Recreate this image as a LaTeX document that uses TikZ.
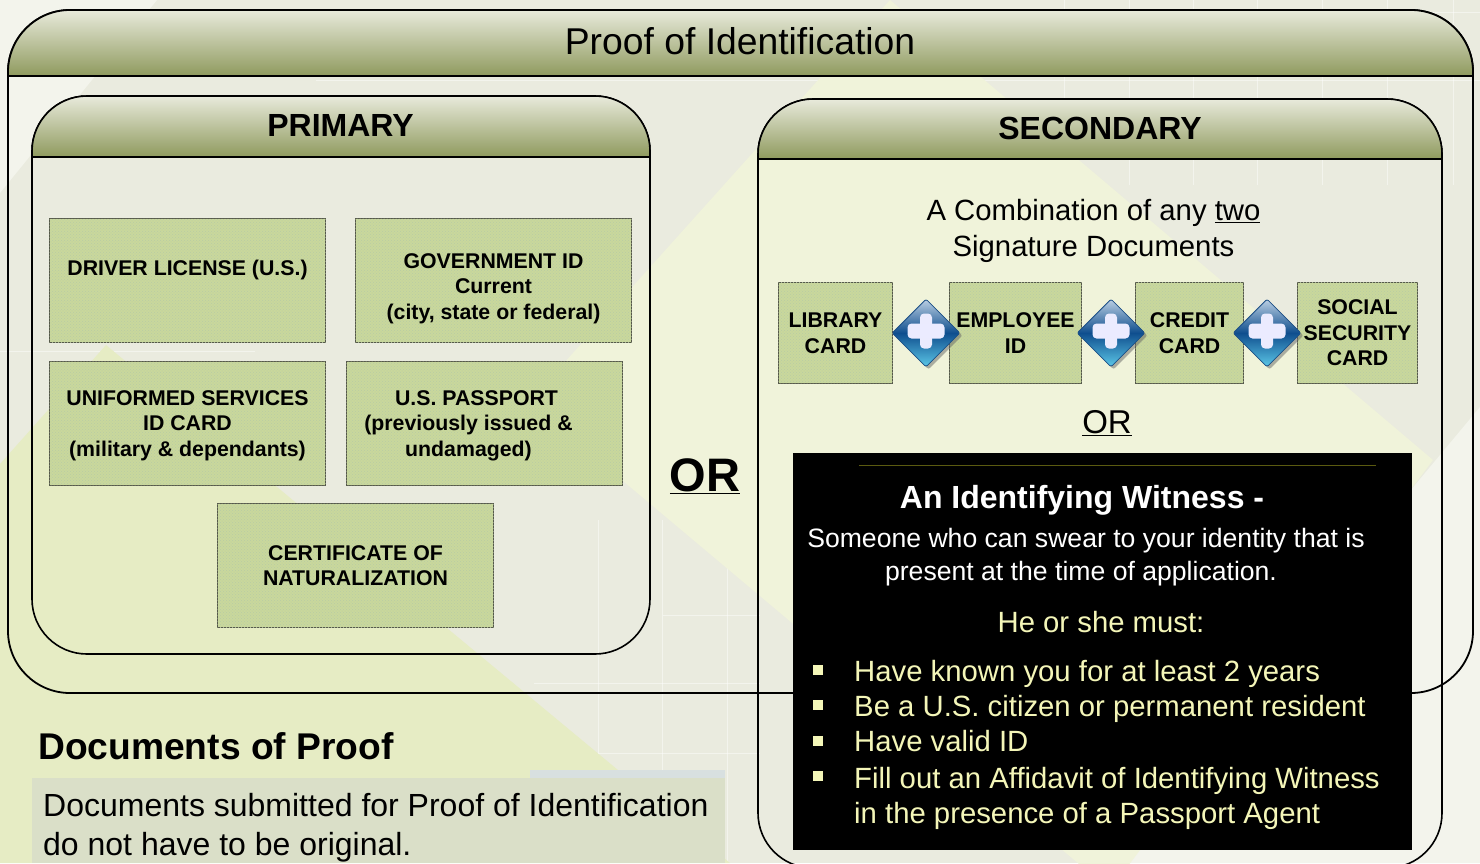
\documentclass[tikz,border=0pt]{standalone}
\usepackage{fontspec}
\setmainfont{Liberation Sans}
\usetikzlibrary{positioning, shapes.geometric, shadows, patterns}

\definecolor{pagegrey}{HTML}{EAEBDF}
\definecolor{pagelight}{HTML}{F3F4EC}
\definecolor{pagegreen}{HTML}{E6ECC4}
\definecolor{panelgreen}{HTML}{F0F3DA}
\definecolor{headtop}{HTML}{E8EADB}
\definecolor{headlow}{HTML}{8F9A5E}
\definecolor{docgreen}{HTML}{C9D89C}
\definecolor{docdots}{HTML}{B9CBA4}
\definecolor{docedge}{HTML}{55584A}
\definecolor{paleyellow}{HTML}{F4F6B8}
\definecolor{notegrey}{HTML}{DADFC8}
\definecolor{notestrip}{HTML}{D8E0E0}
\definecolor{gemtop}{HTML}{BCD0E4}
\definecolor{gemmid}{HTML}{0F4E8E}
\definecolor{gemlow}{HTML}{5CC8E8}
\definecolor{gemedge}{HTML}{1D4F86}
\definecolor{olive}{HTML}{5A5A10}

\begin{document}
\begin{tikzpicture}[
x=1pt,
y=-1pt,
head/.style={
	draw,
	line width=1.8pt,
	top color=headtop,
	bottom color=headlow
},
frame/.style={
	draw,
	line width=1.8pt
},
docbox/.style={
	rectangle,
	draw=docedge,
	line width=1pt,
	fill=docgreen,
	postaction={pattern=crosshatch dots, pattern color=docdots},
	align=center,
	inner sep=0pt,
	font=\fontsize{21.3}{25.6}\selectfont\bfseries
},
plain/.style={
	inner sep=0pt,
	align=center,
	font=\fontsize{#1}{\the\dimexpr#1pt*6/5\relax}\selectfont
},
strong/.style={
	inner sep=0pt,
	align=center,
	font=\fontsize{#1}{\the\dimexpr#1pt*6/5\relax}\selectfont\bfseries
},
rule/.style={
	anchor=west,
	inner sep=0pt,
	align=left,
	text=paleyellow,
	font=\fontsize{29.3}{35}\selectfont
},
plusdiamond/.style={
	diamond,
	aspect=1,
	minimum width=68pt,
	minimum height=68pt,
	inner sep=0pt,
	rounded corners=2pt,
	draw=gemedge,
	line width=0.8pt,
	top color=gemtop,
	bottom color=gemlow,
	middle color=gemmid,
	drop shadow={shadow xshift=2.5pt,shadow yshift=-2.5pt,fill=black!60}
},
plusbar/.style={
	rectangle,
	rounded corners=4pt,
	inner sep=0pt,
	fill=#1
},
bullet/.style={
	rectangle,
	fill=paleyellow,
	minimum size=10pt,
	inner sep=0pt
},
gridline/.style={
	white,
	line width=1pt,
	opacity=0.45
}
]

\clip (0,0) rectangle (1480,863);

% Background
\fill[pagegrey] (0,0) rectangle (1480,863);
\foreach \xpos in {1064,1129,1193,1257,1322,1387,1453}
	\draw[gridline] (\xpos,0) -- (\xpos,185);
\foreach \xpos in {598,662,727}
	\draw[gridline] (\xpos,520) -- (\xpos,863);
\foreach \ypos in {683,753}
	\draw[gridline] (534,\ypos) -- (760,\ypos);
\draw[gridline] (663,615) -- (760,615);
\draw[gridline] (316,80) -- (1480,80);
\draw[gridline] (1180,12) -- (1480,12);
\draw[gridline] (0,351) -- (255,351);
\fill[pagelight] (0,0) -- (157,0) -- (0,193) -- cycle;
\fill[pagelight] (1480,407) -- (1100,863) -- (1480,863) -- cycle;
\fill[pagegreen] (106,345) -- (0,464) -- (0,863) -- (730,863) -- cycle;
\fill[panelgreen] (890,0) -- (529,402) -- (1110,890) -- (1433,460) -- cycle;

% Outer panel
\draw[frame, rounded corners=62pt] (8,10) rectangle (1473,693);
\draw[head] (8,76) [rounded corners=62pt] -- (8,10) -- (1473,10) [sharp corners] -- (1473,76) -- cycle;
\node[plain=37.3] (title) at (740,41) {Proof of Identification};

% Primary panel
\draw[frame, line width=1.6pt, rounded corners=55pt] (32,96) rectangle (650,654);
\draw[head, line width=1.6pt] (32,157) [rounded corners=55pt] -- (32,96) -- (650,96) [sharp corners] -- (650,157) -- cycle;
\node[strong=32] (primary) at (340.5,125) {PRIMARY};

\node[docbox, minimum width=276pt, minimum height=124pt] (driver) at (187.5,280.5) {DRIVER LICENSE (U.S.)\\\mbox{}};
\node[docbox, minimum width=276pt, minimum height=124pt] (government) at (493.5,280.5) {\rule{0pt}{31pt}GOVERNMENT ID\\Current\\(city, state or federal)};
\node[docbox, minimum width=276pt, minimum height=124pt] (uniformed) at (187.5,423.5) {\rule{0pt}{19pt}UNIFORMED SERVICES\\ID CARD\\(military \& dependants)};
\node[docbox, minimum width=276pt, minimum height=124pt] (passport) at (484.5,423.5) {\rule{0pt}{19pt}U.S. PASSPORT\hspace*{16pt}\\\mbox{(previously issued \&\hspace{32pt}}\\undamaged)\hspace*{32pt}};
\node[docbox, minimum width=276pt, minimum height=124pt] (certificate) at (355.5,565.5) {CERTIFICATE OF\\NATURALIZATION};

\node[strong=47] (either) at (705,476) {\underline{OR}};

% Secondary panel
\draw[frame, line width=1.6pt, rounded corners=55pt] (758,99) rectangle (1442,868);
\draw[head, line width=1.6pt] (758,159) [rounded corners=55pt] -- (758,99) -- (1442,99) [sharp corners] -- (1442,159) -- cycle;
\node[strong=32] (secondary) at (1100,128) {SECONDARY};

\node[plain=29.3] (combination) at (1093.5,231) {A Combination of any \underline{two}\\[1.5pt]Signature Documents};

\node[docbox, minimum width=114pt, minimum height=101pt] (library) at (835.5,333) {LIBRARY\\CARD};
\node[docbox, minimum width=132pt, minimum height=101pt] (employee) at (1015.5,333) {EMPLOYEE\\ID};
\node[docbox, minimum width=108pt, minimum height=101pt] (credit) at (1189.5,333) {CREDIT\\CARD};
\node[docbox, minimum width=120pt, minimum height=101pt] (social) at (1357.5,333) {SOCIAL\\SECURITY\\CARD};

\foreach \xpos/\name in {926/one, 1111/two, 1267/three} {
	\node[plusdiamond] (plus\name) at (\xpos,333) {};
	\node[plusbar={black!6!blue!8!white}, minimum width=12pt, minimum height=35pt] (stem\name) at (\xpos,331) {};
	\node[plusbar={black!2!blue!8!white}, minimum width=37pt, minimum height=15pt] (arm\name) at (\xpos,331) {};
}

\node[plain=33] (alternative) at (1107,423) {\underline{OR}};

% Witness box
\fill[black] (793,453) rectangle (1412,850);
\draw[olive, line width=1pt] (859,465) -- (1376,465);
\node[strong=32, text=white] (witness) at (1082,500) {An Identifying Witness -};
\node[plain=26.6, text=white] (someone) at (1086,541) {Someone who can swear to your identity that is};
\node[plain=26.6, text=white] (present) at (1081,574) {present at the time of application.};
\node[plain=29.3, text=paleyellow] (must) at (1101,622) {He or she must:};

\foreach \ypos/\name in {670/known, 705/citizen, 741/valid, 776/affidavit}
	\node[bullet] (dot\name) at (818,\ypos) {};
\node[rule] (known) at (854,674) {Have known you for at least 2 years};
\node[rule] (citizen) at (854,709) {Be a U.S. citizen or permanent resident};
\node[rule] (valid) at (854,741) {Have valid ID};
\node[rule] (affidavit) at (854,798) {Fill out an Affidavit of Identifying Witness\\in the presence of a Passport Agent};

% Note
\fill[notestrip] (530,770) rectangle (725,778);
\fill[notegrey] (32,778) rectangle (725,863);
\node[strong=37.2, anchor=west] (proof) at (38,746) {Documents of Proof};
\node[plain=32, anchor=west, align=left] (note) at (43,828) {Documents submitted for Proof of Identification\\[0.6pt]do not have to be original.};

\end{tikzpicture}
\end{document}
